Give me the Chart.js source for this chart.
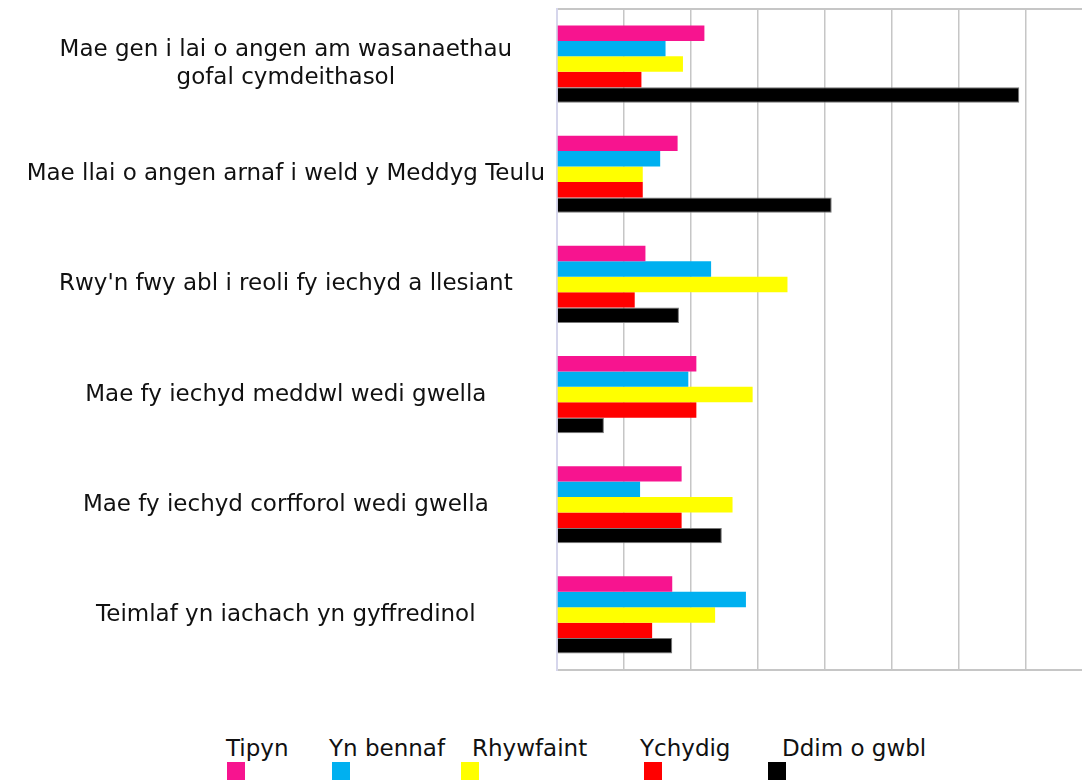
<!DOCTYPE html>
<html>
<head>
<meta charset="utf-8">
<script src="https://cdn.jsdelivr.net/npm/chart.js@4/dist/chart.umd.min.js"></script>
<style>
  html, body { margin: 0; padding: 0; background: #fff; overflow: hidden; }
  #wrap { position: relative; width: 1082px; height: 781px; overflow: hidden; }
  #surveyChart { position: absolute; left: 0; top: 0; }
  .leg-text { position: absolute; top: 737px; font: 23px/23px "DejaVu Sans", sans-serif; color: #111; white-space: nowrap; }
  .leg-box { position: absolute; top: 762px; width: 18px; height: 18px; }
</style>
</head>
<body>
<div id="wrap">
  <canvas id="surveyChart" width="1100" height="680"></canvas>
  <div id="legend"></div>
</div>
<script>
// categories (top to bottom)
var categories = [
    ["Mae gen i lai o angen am wasanaethau", "gofal cymdeithasol"],
    "Mae llai o angen arnaf i weld y Meddyg Teulu",
    "Rwy'n fwy abl i reoli fy iechyd a llesiant",
    "Mae fy iechyd meddwl wedi gwella",
    "Mae fy iechyd corfforol wedi gwella",
    "Teimlaf yn iachach yn gyffredinol"
];

var seriesNames = ["Tipyn", "Yn bennaf", "Rhywfaint", "Ychydig", "Ddim o gwbl"];

var tipyn     = [11.0, 9.0, 6.6, 10.4, 9.3, 8.6];
var ynBennaf  = [8.1, 7.7, 11.5, 9.8, 6.2, 14.1];
var rhywfaint = [9.4, 6.4, 17.2, 14.6, 13.1, 11.8];
var ychydig   = [6.3, 6.4, 5.8, 10.4, 9.3, 7.1];
var ddimOGwbl = [34.5, 20.5, 9.1, 3.5, 12.3, 8.6];

var xMax = 40;
var xStep = 5;

var colours = ["#f7148f", "#00b0f0", "#ffff00", "#ff0000", "#000000"];
var gridGrey = "#c6c6c6";

// legend layout (left edge of text / box, px)
var legendTextX = [226, 329, 472, 640, 782];
var legendBoxX  = [227, 332, 461, 644, 768];

var allSeries = [tipyn, ynBennaf, rhywfaint, ychydig, ddimOGwbl];

var ctx = document.getElementById("surveyChart");

var surveyChart = new Chart(ctx, {
    type: 'bar',
    data: {
        labels: categories,
        datasets: allSeries.map(function (vals, i) {
            return {
                label: seriesNames[i],
                data: vals,
                backgroundColor: colours[i],
                borderWidth: i == 4 ? 1 : 0,
                borderColor: "#777777",
                categoryPercentage: 0.7,
                barPercentage: 1.0
            };
        })
    },
    options: {
        indexAxis: 'y',
        responsive: false,
        animation: false,
        layout: { padding: { top: 9, bottom: 10, left: 0, right: 7 } },
        plugins: {
            legend: { display: false },
            tooltip: { enabled: false }
        },
        scales: {
            x: {
                min: 0,
                max: xMax,
                ticks: { display: false, stepSize: xStep },
                grid: { color: gridGrey, lineWidth: 1.5, drawTicks: false },
                border: { color: gridGrey, width: 2 },
                afterFit: function (scale) {
                    scale.height = 0;
                    scale.paddingLeft = 0;
                    scale.paddingRight = 0;
                }
            },
            y: {
                afterFit: function (scale) {
                    scale.width = 557;
                    scale.paddingTop = 0;
                    scale.paddingBottom = 0;
                },
                ticks: {
                    crossAlign: 'center',
                    padding: 12,
                    color: "#111",
                    font: { family: "'DejaVu Sans', sans-serif", size: 23, lineHeight: 1.22 }
                },
                grid: {
                    offset: true,
                    drawTicks: false,
                    lineWidth: 2,
                    color: function (c) { return c.index === 0 ? gridGrey : 'rgba(0,0,0,0)'; }
                },
                border: { color: "#d6d6ec", width: 2 }
            }
        }
    }
});

// legend: name above coloured square
var legendDiv = document.getElementById("legend");
seriesNames.forEach(function (name, i) {
    var t = document.createElement("div");
    t.className = "leg-text";
    t.style.left = legendTextX[i] + "px";
    t.textContent = name;
    legendDiv.appendChild(t);
    var b = document.createElement("div");
    b.className = "leg-box";
    b.style.left = legendBoxX[i] + "px";
    b.style.background = colours[i];
    legendDiv.appendChild(b);
});
</script>
</body>
</html>
